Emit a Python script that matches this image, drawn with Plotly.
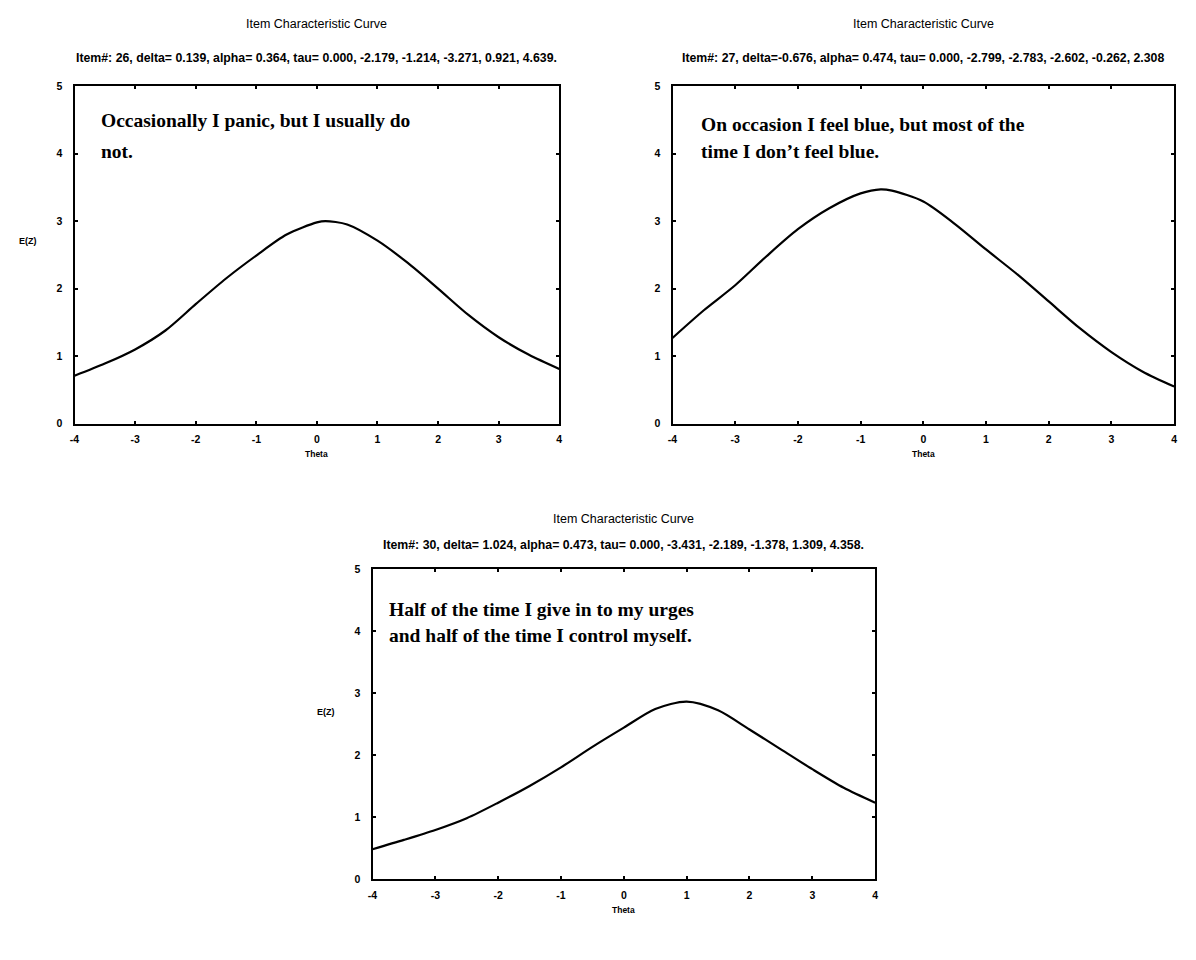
import plotly.graph_objects as go

# Theta grid shared by the three item characteristic curves
theta = [-4, -3.5, -3, -2.5, -2, -1.5, -1, -0.5, 0, 0.5, 1, 1.5, 2, 2.5, 3, 3.5, 4]

# Expected item score E(Z) read along theta for each item
item26_theta = [-4, -3.5, -3, -2.5, -2, -1.5, -1, -0.5, 0, 0.14, 0.5, 1, 1.5, 2, 2.5, 3, 3.5, 4]
item26_ez = [0.71, 0.89, 1.10, 1.38, 1.77, 2.15, 2.49, 2.80, 2.98, 3.00, 2.95, 2.71, 2.38, 2.00, 1.61, 1.28, 1.02, 0.81]

item27_theta = [-4, -3.5, -3, -2.5, -2, -1.5, -1, -0.68, -0.5, 0, 0.5, 1, 1.5, 2, 2.5, 3, 3.5, 4]
item27_ez = [1.27, 1.68, 2.05, 2.48, 2.88, 3.19, 3.41, 3.47, 3.45, 3.29, 2.96, 2.58, 2.21, 1.81, 1.41, 1.06, 0.77, 0.55]

item30_theta = theta
item30_ez = [0.48, 0.63, 0.79, 0.98, 1.23, 1.50, 1.80, 2.13, 2.44, 2.74, 2.86, 2.72, 2.41, 2.09, 1.77, 1.47, 1.23]

x_ticks = [-4, -3, -2, -1, 0, 1, 2, 3, 4]
x_tick_text = ["-4", "-3", "-2", "-1", "0", "1", "2", "3", "4"]
y_ticks = [0, 1, 2, 3, 4, 5]

chart_title = "Item Characteristic Curve"
subtitles = [
    "Item#: 26, delta= 0.139, alpha= 0.364, tau= 0.000, -2.179, -1.214, -3.271, 0.921, 4.639.",
    "Item#: 27, delta=-0.676, alpha= 0.474, tau= 0.000, -2.799, -2.783, -2.602, -0.262, 2.308",
    "Item#: 30, delta= 1.024, alpha= 0.473, tau= 0.000, -3.431, -2.189, -1.378, 1.309, 4.358.",
]
# item wording, one entry per printed line, with the E(Z) level of each line
statements = [
    ["Occasionally I panic, but I usually do", "not."],
    ["On occasion I feel blue, but most of the", "time I don\u2019t feel blue."],
    ["Half of the time I give in to my urges", "and half of the time I control myself."],
]
statement_levels = [[4.49, 4.03], [4.43, 4.03], [4.35, 3.93]]
statement_theta = [-3.6, -3.58, -3.77]

W, H = 1196, 960
# panel boxes in pixels: (left, right, top, bottom)
panels = [(70, 558, 81, 423), (672, 1177, 81, 423), (370, 876, 570, 884)]
title_y = [18, 18, 519]
subtitle_y = [53, 53, 546]
show_ytitle = [True, False, True]

fig = go.Figure()
series = [(item26_theta, item26_ez), (item27_theta, item27_ez), (item30_theta, item30_ez)]

sans = "Liberation Sans"
serif = "Liberation Serif"

for i, ((xs, ys), (l, r, t, b)) in enumerate(zip(series, panels)):
    sfx = "" if i == 0 else str(i + 1)
    fig.add_trace(go.Scatter(
        x=xs, y=ys, mode="lines", line=dict(color="black", width=2.2, shape="spline", smoothing=0.8),
        xaxis="x" + sfx, yaxis="y" + sfx, showlegend=False, hoverinfo="skip"))
    axis_common = dict(
        showline=True, linecolor="black", linewidth=2, mirror="ticks",
        ticks="inside", ticklen=3, tickwidth=1.5, tickcolor="black",
        showgrid=False, zeroline=False,
        tickfont=dict(family=sans, size=10.5, color="black", weight="bold"),
    )
    fig.update_layout(**{
        "xaxis" + sfx: dict(axis_common, domain=[l / W, r / W], range=[-4, 4],
                            tickvals=x_ticks, ticktext=x_tick_text, anchor="y" + sfx,
                            ticklabelstandoff=5),
        "yaxis" + sfx: dict(axis_common, domain=[1 - b / H, 1 - t / H], range=[0, 5],
                            tickvals=y_ticks, anchor="x" + sfx, ticklabelstandoff=8),
    })
    cx = (l + r) / 2
    # panel title and parameter line
    fig.add_annotation(x=cx / W, y=1 - title_y[i] / H, xref="paper", yref="paper", text=chart_title,
                       showarrow=False, font=dict(family=sans, size=12.5, color="black"),
                       xanchor="center", yanchor="middle")
    fig.add_annotation(x=cx / W, y=1 - subtitle_y[i] / H, xref="paper", yref="paper", text=subtitles[i],
                       showarrow=False, font=dict(family=sans, size=12.3, color="black", weight="bold"),
                       xanchor="center", yanchor="middle")
    # item statement inside the panel
    for line, lvl in zip(statements[i], statement_levels[i]):
        fig.add_annotation(x=statement_theta[i], y=lvl, xref="x" + sfx, yref="y" + sfx,
                           text=line, showarrow=False, align="left",
                           font=dict(family=serif, size=19.5, color="black", weight="bold"),
                           xanchor="left", yanchor="middle")
    # axis titles
    fig.add_annotation(x=cx / W, y=1 - (b + 31) / H, xref="paper", yref="paper", text="Theta",
                       showarrow=False, font=dict(family=sans, size=8.5, color="black", weight="bold"),
                       xanchor="center", yanchor="middle")
    if show_ytitle[i]:
        fig.add_annotation(x=(l - 47) / W, y=2.7, xref="paper", yref="y" + sfx, text="E(Z)",
                           showarrow=False, font=dict(family=sans, size=9, color="black", weight="bold"),
                           xanchor="center", yanchor="middle")

fig.update_layout(width=W, height=H, margin=dict(l=0, r=0, t=0, b=0),
                  paper_bgcolor="white", plot_bgcolor="white", showlegend=False)

fig.write_html("out.html")
